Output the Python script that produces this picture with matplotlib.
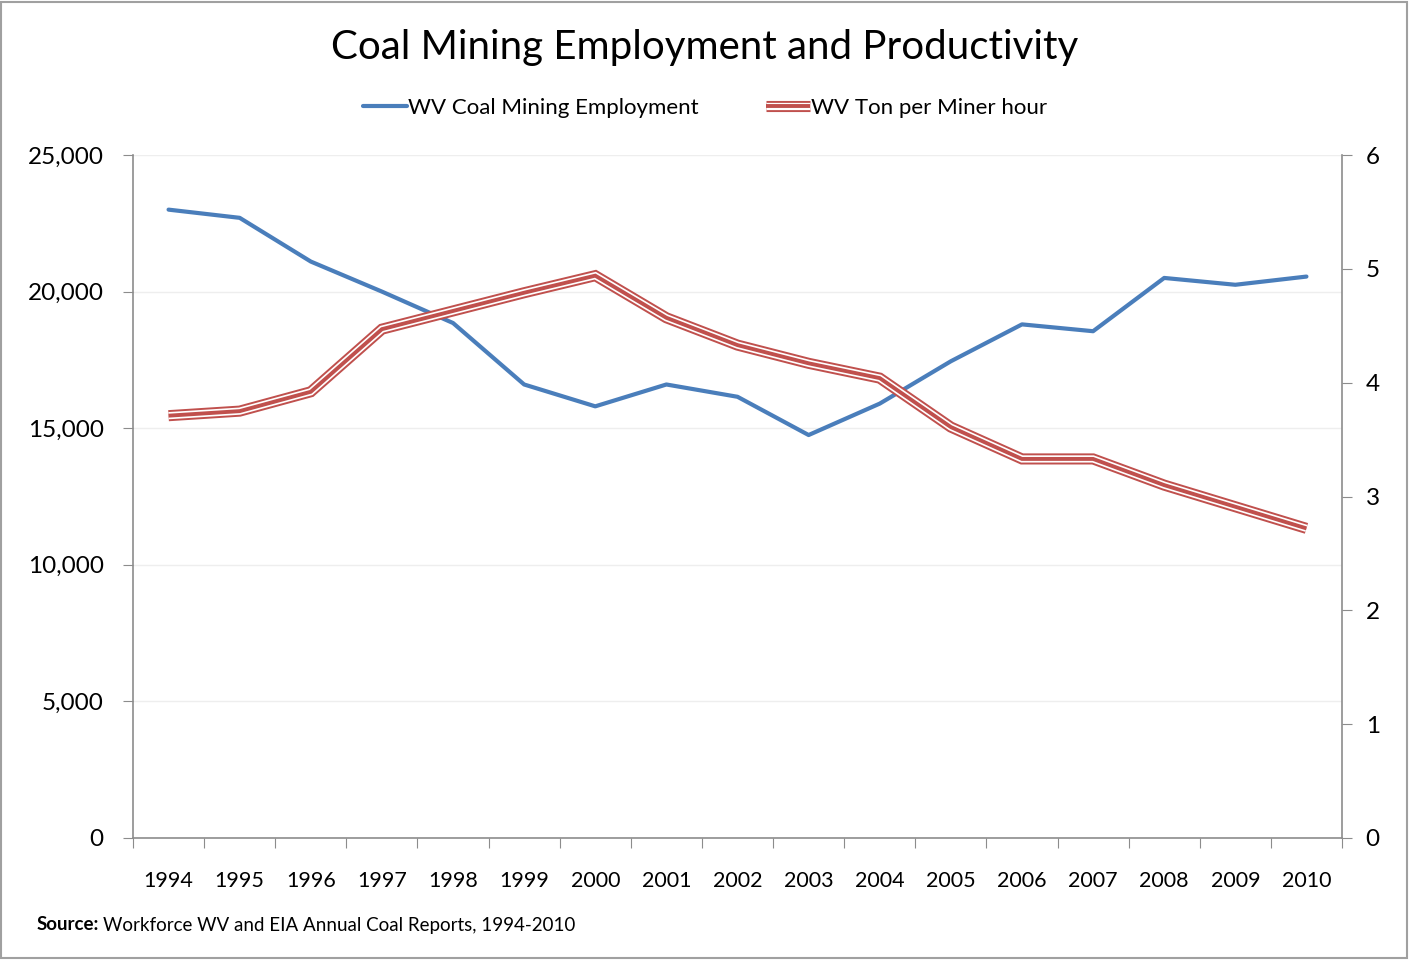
import matplotlib.pyplot as plt
import numpy as np
from matplotlib.legend_handler import HandlerTuple
from matplotlib.patches import Rectangle

years = ["1994", "1995", "1996", "1997", "1998", "1999", "2000", "2001", "2002",
         "2003", "2004", "2005", "2006", "2007", "2008", "2009", "2010"]
employment = [23000, 22700, 21100, 20000, 18850, 16600, 15800, 16600, 16150,
              14750, 15900, 17450, 18800, 18550, 20500, 20250, 20550]
tons_per_hour = [3.71, 3.75, 3.92, 4.47, 4.63, 4.79, 4.94, 4.57, 4.33,
                 4.17, 4.04, 3.61, 3.33, 3.33, 3.10, 2.91, 2.72]

BLUE = "#4A7EBB"
RED = "#C0504D"
GREY = "#8C8C8C"


def main():
    plt.rcParams['font.family'] = ['Lato', 'DejaVu Sans']

    fig = plt.figure(figsize=(14.1, 9.6), dpi=100)
    ax = fig.add_axes([133 / 1410, 122 / 960, 1209 / 1410, 683 / 960])
    ax2 = ax.twinx()

    x = np.arange(len(years))

    # employment on left axis
    l1, = ax.plot(x, employment, color=BLUE, lw=3, solid_capstyle='round',
                  solid_joinstyle='round', zorder=3)

    # productivity: compound red line on right axis (red / white / red)
    style = dict(solid_joinstyle='miter', solid_capstyle='butt')
    r1, = ax2.plot(x, tons_per_hour, color=RED, lw=8, **style)
    r2, = ax2.plot(x, tons_per_hour, color="white", lw=5.2, **style)
    r3, = ax2.plot(x, tons_per_hour, color=RED, lw=2.8, **style)

    ax.set_xlim(-0.5, len(years) - 0.5)
    ax.set_ylim(0, 25000)
    ax2.set_ylim(0, 6)

    ax.set_yticks(np.arange(0, 25001, 5000))
    ax.set_yticklabels([f"{v:,}" for v in range(0, 25001, 5000)])
    ax2.set_yticks(np.arange(0, 7, 1))

    ax.set_xticks(np.arange(-0.5, len(years), 1))
    ax.set_xticklabels([])
    ax.set_xticks(x, minor=True)
    ax.set_xticklabels(years, minor=True)

    ax.grid(axis='y', color="#EEEEEE", lw=1)
    ax.set_axisbelow(True)

    for a in (ax, ax2):
        a.spines['top'].set_visible(False)
        for s in ('left', 'right', 'bottom'):
            a.spines[s].set_color(GREY)
            a.spines[s].set_linewidth(1.2)
    ax.spines['right'].set_visible(False)
    ax2.spines['left'].set_visible(False)
    ax2.spines['bottom'].set_visible(False)

    ax.tick_params(axis='y', which='major', direction='out', length=7,
                   color=GREY, labelsize=17.5, pad=14)
    ax2.tick_params(axis='y', which='major', direction='out', length=7,
                    color=GREY, labelsize=17.5, pad=10)
    ax.tick_params(axis='x', which='major', direction='out', length=7, color=GREY)
    ax.tick_params(axis='x', which='minor', length=0, labelsize=15.5, pad=24)

    fig.text(0.5, 0.95, "Coal Mining Employment and Productivity",
             ha='center', va='center', fontsize=29)

    fig.legend([l1, (r1, r2, r3)],
               ["WV Coal Mining Employment", "WV Ton per Miner hour"],
               handler_map={tuple: HandlerTuple(ndivide=1, pad=0)},
               loc='center', bbox_to_anchor=(0.5, 0.888), ncol=2, frameon=False,
               fontsize=16, handlelength=2.0, handletextpad=0.05, columnspacing=3)

    ty = 1 - 925 / 960
    fig.text(37 / 1410, ty, "Source:", fontsize=13.5, va='center', fontweight='bold')
    fig.text(103 / 1410, ty,
             "Workforce WV and EIA Annual Coal Reports, 1994-2010",
             fontsize=13.5, va='center')

    fig.patches.append(Rectangle((0.001, 0.002), 0.997, 0.996, transform=fig.transFigure,
                                 fill=False, edgecolor="#A0A0A0", lw=1.5))

    fig.savefig("out.png", dpi=100)


if __name__ == "__main__":
    main()
